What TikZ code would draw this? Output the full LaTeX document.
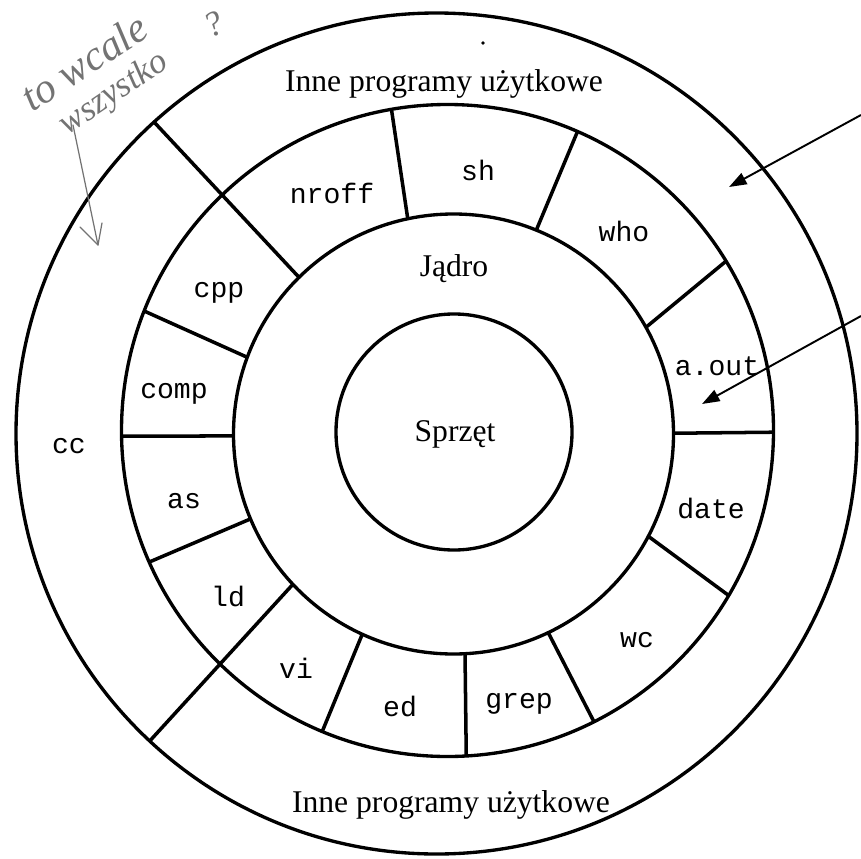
\documentclass[tikz,border=0pt]{standalone}
\usepackage{fontspec}
\setmainfont{Liberation Serif}
\newfontfamily\progfont{Liberation Mono}
\usetikzlibrary{arrows.meta}

\tikzset{
  ringline/.style={line width=1.9pt},
  divider/.style={line width=2pt},
  prog/.style={font=\progfont\fontsize{16}{16}\selectfont, anchor=base, inner sep=0pt},
  layer/.style={font=\fontsize{18}{18}\selectfont, anchor=base, inner sep=0pt},
  pointer/.style={line width=1.1pt, -{Triangle[length=10pt,width=7pt]}},
  handline/.style={draw=black!55, line width=0.7pt, line cap=round, line join=round},
  handtext/.style={text=black!55, font=\itshape\fontsize{24}{24}\selectfont, inner sep=0pt}
}

\begin{document}
\begin{tikzpicture}[x=0.02cm,y=0.02cm]
  \useasboundingbox (0,0) rectangle (861,-858);

  % centres of the four circles
  \coordinate (cO) at (436.5,-433.5);
  \coordinate (cR) at (447.5,-430.5);
  \coordinate (cM) at (453.5,-434);
  \coordinate (cS) at (454,-432);

  % concentric layers
  \draw[ringline] (cO) circle[radius=420.5];
  \draw[ringline] (cR) circle[radius=326];
  \draw[ringline] (cM) circle[radius=220];
  \draw[ringline] (cS) circle[radius=118];

  % dividers between the programs
  \draw[divider] ([shift={(102:220)}]cM) -- ([shift={(99.9:326)}]cR);
  \draw[divider] ([shift={(67.9:220)}]cM) -- ([shift={(66.5:326)}]cR);
  \draw[divider] ([shift={(29.0:220)}]cM) -- ([shift={(31.3:326)}]cR);
  \draw[divider] ([shift={(0.2:220)}]cM) -- ([shift={(-0.3:326)}]cR);
  \draw[divider] ([shift={(-27.7:220)}]cM) -- ([shift={(-30.4:326)}]cR);
  \draw[divider] ([shift={(-64.5:220)}]cM) -- ([shift={(-63.3:326)}]cR);
  \draw[divider] ([shift={(-87.0:220)}]cM) -- ([shift={(-86.7:326)}]cR);
  \draw[divider] ([shift={(-114.5:220)}]cM) -- ([shift={(-112.6:326)}]cR);
  \draw[divider] ([shift={(223.1:220)}]cM) -- ([shift={(227.0:420.5)}]cO);
  \draw[divider] ([shift={(202.7:220)}]cM) -- ([shift={(203.8:326)}]cR);
  \draw[divider] ([shift={(180.5:220)}]cM) -- ([shift={(181.0:326)}]cR);
  \draw[divider] ([shift={(159.6:220)}]cM) -- ([shift={(158.5:326)}]cR);
  \draw[divider] ([shift={(134.6:220)}]cM) -- ([shift={(132.2:420.5)}]cO);

  % layer names
  \node[layer] (appsTop) at (444,-92) {Inne programy użytkowe};
  \node[layer] (appsBottom) at (451,-812) {Inne programy użytkowe};
  \node[layer] (kernel) at (454,-276) {Jądro};
  \node[layer] (hardware) at (455,-441) {Sprzęt};

  % programs
  \node[prog] (nroff) at (332,-203) {nroff};
  \node[prog] (sh) at (478,-180) {sh};
  \node[prog] (who) at (624,-241) {who};
  \node[prog] (aout) at (717,-375) {a.out};
  \node[prog] (date) at (711,-518) {date};
  \node[prog] (wc) at (637,-647) {wc};
  \node[prog] (grep) at (519,-708) {grep};
  \node[prog] (ed) at (400,-716) {ed};
  \node[prog] (vi) at (296,-678) {vi};
  \node[prog] (ld) at (228,-606) {ld};
  \node[prog] (as) at (184,-508) {as};
  \node[prog] (cc) at (69,-453) {cc};
  \node[prog] (comp) at (174,-398) {comp};
  \node[prog] (cpp) at (219,-297) {cpp};

  % pointers from the right margin
  \coordinate (from1) at (861,-115);
  \coordinate (to1) at (729,-187);
  \coordinate (from2) at (861,-316);
  \coordinate (to2) at (702,-404);
  \draw[pointer] (from1) -- (to1);
  \draw[pointer] (from2) -- (to2);

  % stray dot
  \fill (483,-43) circle[radius=1.8];

  % handwritten note with its arrow
  \node[handtext, rotate=33] (note1) at (84,-62) {to wcale};
  \node[handtext, rotate=34, font=\itshape\fontsize{20}{20}\selectfont] (note2) at (114,-94) {wszystko};
  \node[handtext, rotate=25, font=\itshape\fontsize{20}{20}\selectfont] (note3) at (214,-24) {?};
  \coordinate (h1) at (73,-125);
  \coordinate (h2) at (98,-245);
  \draw[handline] (h1) -- (h2);
  \draw[handline] (80,-227) -- (h2) -- (102,-223);
\end{tikzpicture}
\end{document}
